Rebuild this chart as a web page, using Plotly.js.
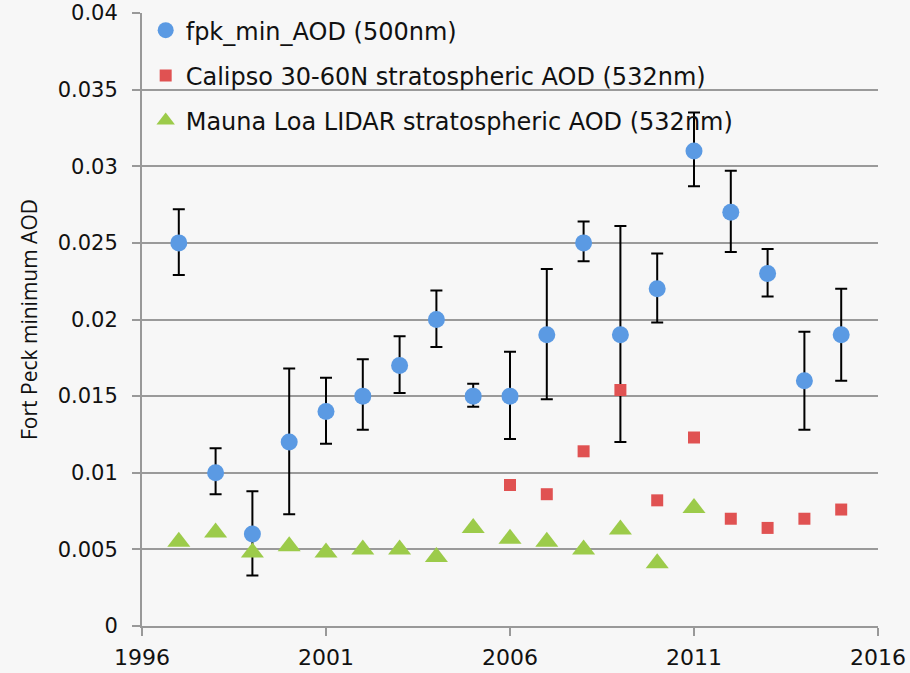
<!DOCTYPE html>
<html>
<head>
<meta charset="utf-8">
<script src="https://cdn.plot.ly/plotly-3.0.1.min.js"></script>
<style>
  body { margin: 0; background: #f7f7f7; }
  #graph { width: 910px; height: 673px; }
</style>
</head>
<body>
<div id="graph"></div>
<script>
// fpk minimum AOD, 500 nm, with error bar ends
var fpkYears = [1997, 1998, 1999, 2000, 2001, 2002, 2003, 2004, 2005, 2006,
                2007, 2008, 2009, 2010, 2011, 2012, 2013, 2014, 2015];
var fpkAod   = [0.025, 0.010, 0.006, 0.012, 0.014, 0.015, 0.017, 0.020, 0.015, 0.015,
                0.019, 0.025, 0.019, 0.022, 0.031, 0.027, 0.023, 0.016, 0.019];
var fpkHigh  = [0.0272, 0.0116, 0.0088, 0.0168, 0.0162, 0.0174, 0.0189, 0.0219, 0.0158, 0.0179,
                0.0233, 0.0264, 0.0261, 0.0243, 0.0335, 0.0297, 0.0246, 0.0192, 0.0220];
var fpkLow   = [0.0229, 0.0086, 0.0033, 0.0073, 0.0119, 0.0128, 0.0152, 0.0182, 0.0143, 0.0122,
                0.0148, 0.0238, 0.0120, 0.0198, 0.0287, 0.0244, 0.0215, 0.0128, 0.0160];

// Calipso 30-60N stratospheric AOD, 532 nm
var calYears = [2006, 2007, 2008, 2009, 2010, 2011, 2012, 2013, 2014, 2015];
var calAod   = [0.0092, 0.0086, 0.0114, 0.0154, 0.0082, 0.0123, 0.0070, 0.0064, 0.0070, 0.0076];

// Mauna Loa LIDAR stratospheric AOD, 532 nm
var mloYears = [1997, 1998, 1999, 2000, 2001, 2002, 2003, 2004, 2005, 2006,
                2007, 2008, 2009, 2010, 2011];
var mloAod   = [0.0055, 0.0061, 0.0048, 0.0052, 0.0048, 0.0050, 0.0050, 0.0045, 0.0064, 0.0057,
                0.0055, 0.0050, 0.0063, 0.0041, 0.0077];

var xTicks = [1996, 2001, 2006, 2011, 2016];
var yTicks = [0, 0.005, 0.01, 0.015, 0.02, 0.025, 0.03, 0.035, 0.04];
var yTickText = ['0', '0.005', '0.01', '0.015', '0.02', '0.025', '0.03', '0.035', '0.04'];

var errPlus = [], errMinus = [];
for (let i = 0; i < fpkAod.length; i++) {
    errPlus[i] = fpkHigh[i] - fpkAod[i];
    errMinus[i] = fpkAod[i] - fpkLow[i];
}

var fpk = {
    x: fpkYears, y: fpkAod,
    name: 'fpk_min_AOD (500nm)',
    type: 'scatter', mode: 'markers',
    legendgroup: 'a',
    marker: {symbol: 'circle', size: 17, color: '#5b9ae3', line: {width: 0}},
    error_y: {type: 'data', symmetric: false, array: errPlus, arrayminus: errMinus,
              color: '#000000', thickness: 2, width: 6}
};

var cal = {
    x: calYears, y: calAod,
    name: 'Calipso 30-60N stratospheric AOD (532nm)',
    type: 'scatter', mode: 'markers',
    legendgroup: 'b',
    marker: {symbol: 'square', size: 12, color: '#e05252', line: {width: 0}}
};

var mlo = {
    x: mloYears, y: mloAod,
    name: 'Mauna Loa LIDAR stratospheric AOD (532nm)',
    type: 'scatter', mode: 'markers',
    legendgroup: 'c',
    marker: {symbol: 'triangle-up', size: 20, color: '#9ccb4a', line: {width: 0}}
};

var layout = {
    width: 910, height: 673,
    margin: {l: 142, r: 32, t: 13, b: 47, autoexpand: false},
    paper_bgcolor: '#f7f7f7',
    plot_bgcolor: '#f7f7f7',
    font: {family: 'DejaVu Sans, sans-serif', size: 21, color: '#111'},
    showlegend: true,
    legend: {
        x: 0.005, y: 1.008, xanchor: 'left', yanchor: 'top',
        bgcolor: 'rgba(0,0,0,0)',
        font: {family: 'DejaVu Sans, sans-serif', size: 24, color: '#111'},
        traceorder: 'grouped',
        tracegroupgap: 11
    },
    xaxis: {
        range: [1996, 2016],
        tickvals: xTicks,
        ticktext: xTicks.map(String),
        showgrid: false,
        zeroline: false,
        showline: true, linecolor: '#999', linewidth: 2,
        ticks: 'outside', ticklen: 8, tickcolor: '#999', tickwidth: 2,
        ticklabelstandoff: 3,
        tickfont: {size: 22}
    },
    yaxis: {
        range: [0, 0.04],
        tickvals: yTicks,
        ticktext: yTickText,
        showgrid: true, gridcolor: '#9a9a9a', gridwidth: 2,
        zeroline: false,
        showline: true, linecolor: '#999', linewidth: 2,
        ticks: 'outside', ticklen: 8, tickcolor: '#999', tickwidth: 2,
        ticklabelstandoff: 10,
        tickfont: {size: 21},
        title: {text: 'Fort Peck minimum AOD', font: {family: 'Open Sans, sans-serif', size: 21}, standoff: 14}
    }
};

Plotly.newPlot('graph', [fpk, cal, mlo], layout, {displayModeBar: false});
</script>
</body>
</html>
